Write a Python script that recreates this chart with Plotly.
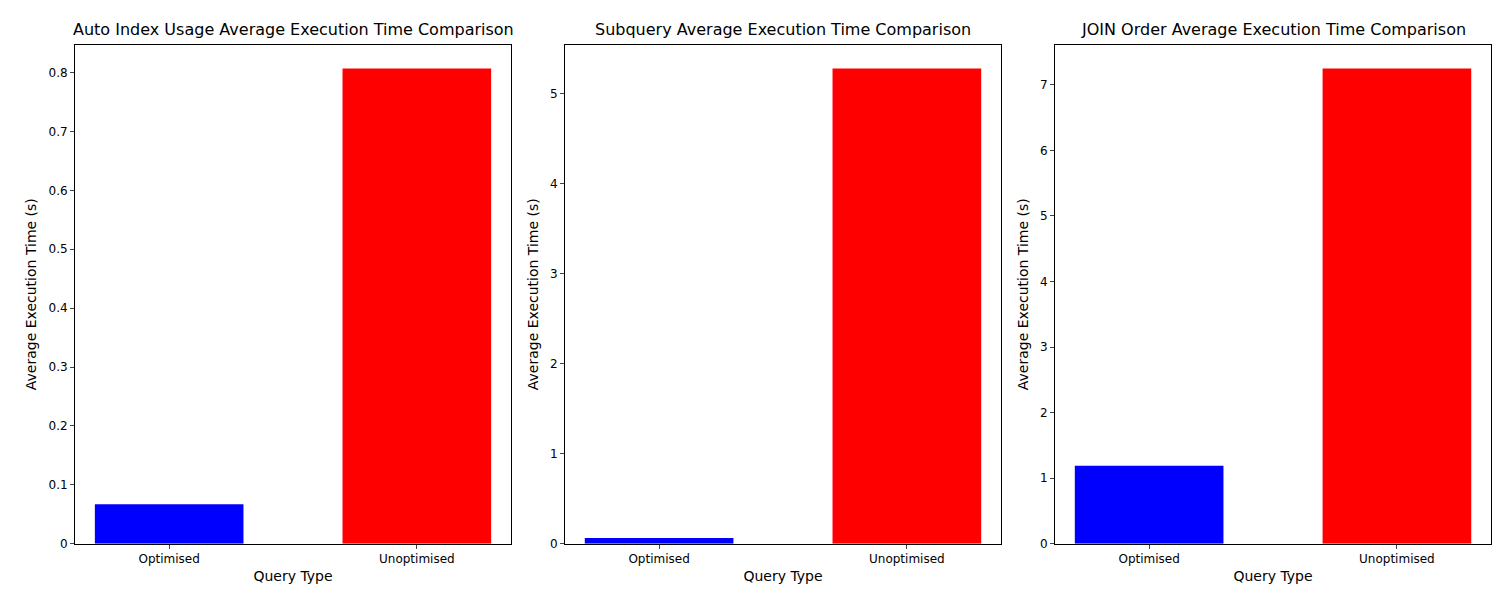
import plotly.graph_objects as go
from plotly.subplots import make_subplots

query_types = ["Optimised", "Unoptimised"]
auto_index = [0.067, 0.807]
subquery = [0.063, 5.28]
join_order = [1.19, 7.25]
titles = ["Auto Index Usage Average Execution Time Comparison",
          "Subquery Average Execution Time Comparison",
          "JOIN Order Average Execution Time Comparison"]
bar_colors = ["blue", "red"]

fig = make_subplots(rows=1, cols=3)
domains = [[0.0447, 0.3353], [0.3713, 0.662], [0.698, 0.9887]]
dtick = [0.1, 1, 1]

for i, vals in enumerate([auto_index, subquery, join_order]):
    fig.add_trace(go.Bar(x=[0, 1], y=vals, width=0.6, marker_color=bar_colors,
                         marker_line_width=0, showlegend=False), row=1, col=i + 1)
    ax = "" if i == 0 else str(i + 1)
    fig.layout["xaxis" + ax].update(
        domain=domains[i], range=[-0.38, 1.38], tickvals=[0, 1], ticktext=query_types,
        title=dict(text="Query Type", standoff=6), showline=True, mirror=True,
        linecolor="black", ticks="outside", ticklen=4, showgrid=False, zeroline=False)
    fig.layout["yaxis" + ax].update(
        domain=[0.0967, 0.938], range=[0, max(vals) * 1.05], dtick=dtick[i],
        title=dict(text="Average Execution Time (s)", standoff=8), showline=True, mirror=True,
        linecolor="black", ticks="outside", ticklen=4, showgrid=False, zeroline=False)
    fig.add_annotation(text=titles[i], x=sum(domains[i]) / 2, y=0.945, xref="paper", yref="paper",
                       xanchor="center", yanchor="bottom", showarrow=False, font=dict(size=16))

fig.update_layout(width=1500, height=600, margin=dict(l=0, r=0, t=0, b=0),
                  plot_bgcolor="white", paper_bgcolor="white",
                  font=dict(family="DejaVu Sans", size=12, color="black"))
fig.write_html("out.html")
